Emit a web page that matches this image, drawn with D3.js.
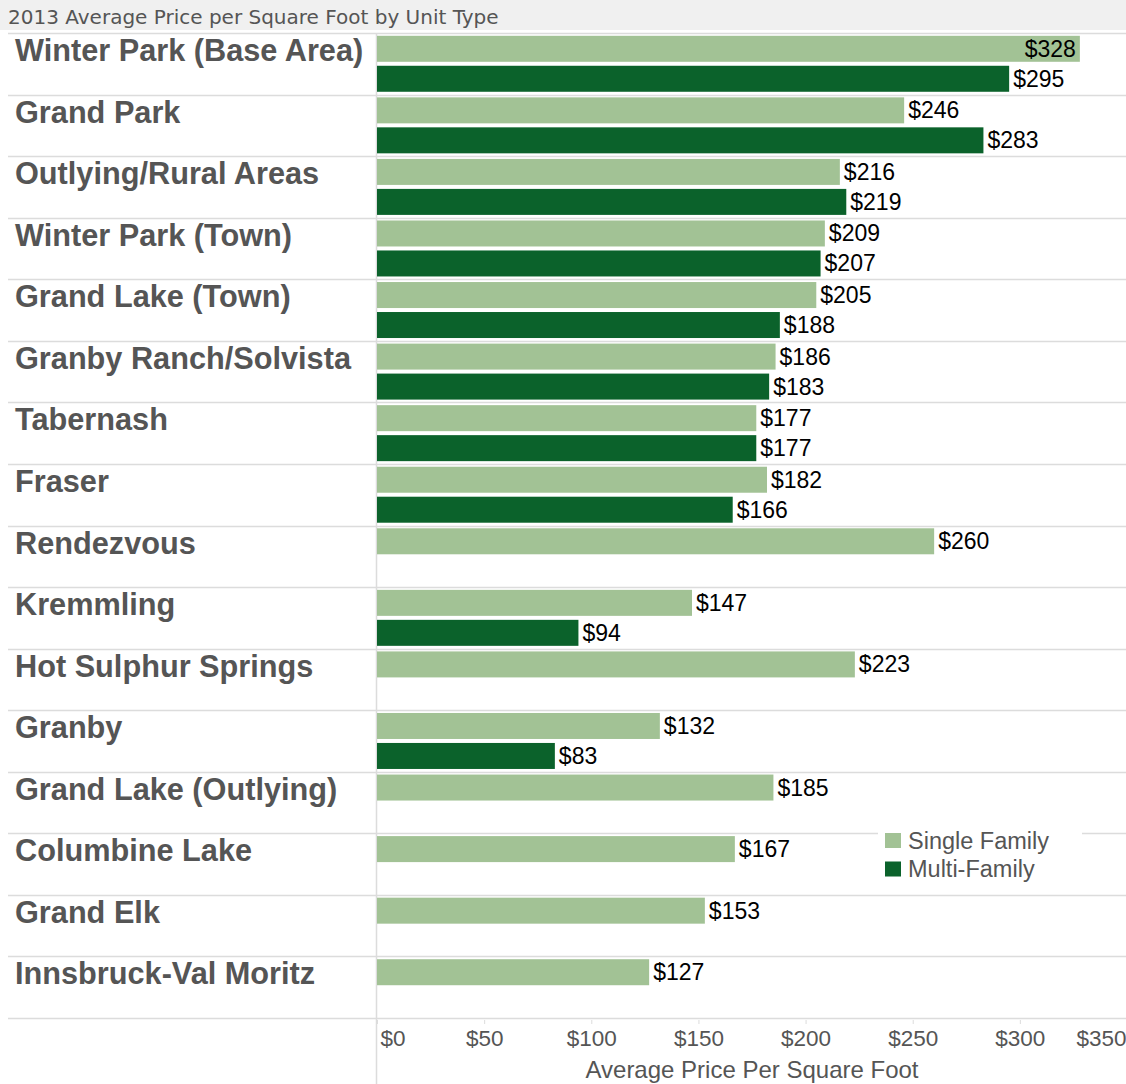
<!DOCTYPE html>
<html>
<head>
<meta charset="utf-8">
<script src="https://cdn.jsdelivr.net/npm/d3@7"></script>
<style>
  body { margin: 0; background: #fff; }
  text { font-family: "Liberation Sans", Arial, sans-serif; }
</style>
</head>
<body>
<div id="plot"></div>
<script>
// data
const areas = ["Winter Park (Base Area)", "Grand Park", "Outlying/Rural Areas", "Winter Park (Town)",
  "Grand Lake (Town)", "Granby Ranch/Solvista", "Tabernash", "Fraser", "Rendezvous", "Kremmling",
  "Hot Sulphur Springs", "Granby", "Grand Lake (Outlying)", "Columbine Lake", "Grand Elk", "Innsbruck-Val Moritz"];
const singleFamily = [328, 246, 216, 209, 205, 186, 177, 182, 260, 147, 223, 132, 185, 167, 153, 127];
const multiFamily  = [295, 283, 219, 207, 188, 183, 177, 166, null, 94, null, 83, null, null, null, null];
const unitTypes = ["Single Family", "Multi-Family"];
const xTicks = [0, 50, 100, 150, 200, 250, 300, 350];

const colors = {"Single Family": "#a2c295", "Multi-Family": "#0b622b"};
const W = 1126, H = 1084;
const plotLeft = 377, plotRight = 1127, plotTop = 33, plotBottom = 1018;

const svg = d3.select("div#plot").append("svg")
  .attr("width", W).attr("height", H);

// title band
svg.append("rect").attr("x", 0).attr("y", 0).attr("width", W).attr("height", 30).attr("fill", "#f0f0f0");
svg.append("text")
  .attr("x", 8).attr("y", 24)
  .style("font-family", "'DejaVu Sans', sans-serif")
  .style("font-size", "20px")
  .attr("fill", "#555")
  .text("2013 Average Price per Square Foot by Unit Type");

const x = d3.scaleLinear().domain([0, 350]).range([plotLeft, plotRight]);
const y = d3.scaleBand().domain(areas).range([plotTop, plotBottom]);
const ySub = d3.scaleBand().domain(unitTypes).range([0, y.bandwidth()])
  .paddingInner(0.133).paddingOuter(0.093);

// row separators
const seps = areas.map(a => y(a)).concat([plotBottom]);
svg.append("g").selectAll("line").data(seps).join("line")
  .attr("x1", 8).attr("x2", W)
  .attr("y1", d => Math.round(d) + 0.5).attr("y2", d => Math.round(d) + 0.5)
  .attr("stroke", "#dcdcdc").attr("stroke-width", 1.5);

// vertical divider
svg.append("line")
  .attr("x1", plotLeft - 0.5).attr("x2", plotLeft - 0.5)
  .attr("y1", plotTop).attr("y2", H)
  .attr("stroke", "#dcdcdc").attr("stroke-width", 1.5);

// row labels
svg.append("g").selectAll("text").data(areas).join("text")
  .attr("x", 15)
  .attr("y", d => y(d) + 28)
  .style("font-size", "30.7px")
  .style("font-weight", "bold")
  .attr("fill", "#555")
  .text(d => d);

// bars
const rows = [];
areas.forEach((a, i) => {
  rows.push({area: a, type: "Single Family", value: singleFamily[i]});
  if (multiFamily[i] != null) rows.push({area: a, type: "Multi-Family", value: multiFamily[i]});
});

const inside = d => x(d.value) + 55 > plotRight;

const bars = svg.append("g");
bars.selectAll("rect").data(rows).join("rect")
  .attr("x", x(0))
  .attr("y", d => y(d.area) + ySub(d.type))
  .attr("width", d => x(d.value) - x(0))
  .attr("height", ySub.bandwidth())
  .attr("fill", d => colors[d.type]);

// value labels
bars.selectAll("text").data(rows).join("text")
  .attr("x", d => inside(d) ? x(d.value) - 4 : x(d.value) + 4)
  .attr("text-anchor", d => inside(d) ? "end" : "start")
  .attr("y", d => y(d.area) + ySub(d.type) + ySub.bandwidth() / 2 + 8)
  .style("font-size", "23px")
  .attr("fill", "#000")
  .text(d => "$" + d.value);

// x axis
const xAxis = svg.append("g")
  .attr("transform", `translate(0,${plotBottom})`)
  .call(d3.axisBottom(x).tickValues(xTicks).tickSize(6).tickFormat(d => "$" + d));
xAxis.select(".domain").remove();
xAxis.selectAll(".tick line").attr("stroke", "#dcdcdc").attr("y1", 2);
xAxis.selectAll(".tick text")
  .attr("fill", "#555")
  .style("font-size", "22.5px")
  .style("font-family", "'Liberation Sans', Arial, sans-serif")
  .attr("y", 12)
  .attr("text-anchor", d => d === 0 ? "start" : d === 350 ? "end" : "middle")
  .attr("dx", d => d === 0 ? 3 : d === 350 ? -1 : 0);

svg.append("text")
  .attr("x", (plotLeft + plotRight) / 2)
  .attr("y", 1078)
  .attr("text-anchor", "middle")
  .style("font-size", "24px")
  .attr("fill", "#555")
  .text("Average Price Per Square Foot");

// legend
const legend = svg.append("g").attr("transform", "translate(878,826)");
legend.append("rect").attr("width", 204).attr("height", 56).attr("fill", "#fff");
legend.selectAll("rect.key").data(unitTypes).join("rect")
  .attr("class", "key")
  .attr("x", 7).attr("y", (d, i) => 7 + i * 28.5)
  .attr("width", 16).attr("height", 15)
  .attr("fill", d => colors[d]);
legend.selectAll("text").data(unitTypes).join("text")
  .attr("x", 30).attr("y", (d, i) => 23 + i * 28)
  .style("font-size", "23.5px")
  .attr("fill", "#555")
  .text(d => d);
</script>
</body>
</html>
